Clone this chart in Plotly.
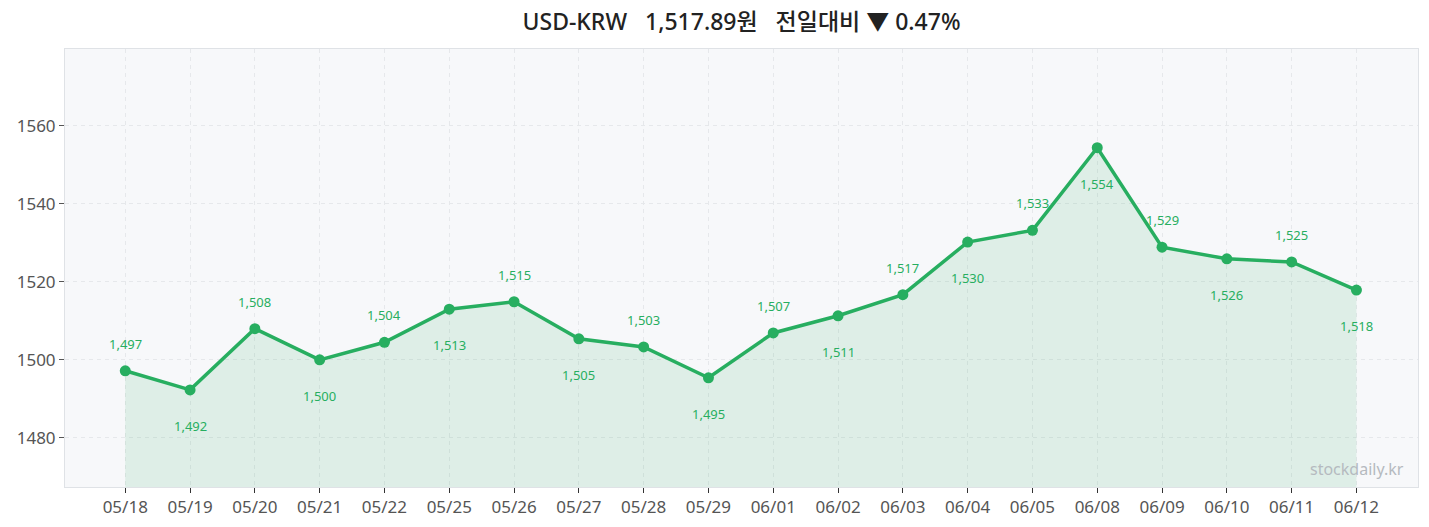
import plotly.graph_objects as go

dates = ["05/18", "05/19", "05/20", "05/21", "05/22", "05/25", "05/26", "05/27", "05/28", "05/29",
         "06/01", "06/02", "06/03", "06/04", "06/05", "06/08", "06/09", "06/10", "06/11", "06/12"]
rates = [1497.2, 1492.3, 1508.0, 1500.0, 1504.5, 1513.0, 1514.9, 1505.4, 1503.3, 1495.4,
         1506.9, 1511.3, 1516.7, 1530.2, 1533.2, 1554.4, 1528.9, 1525.9, 1525.1, 1517.89]
y_ticks = [1480, 1500, 1520, 1540, 1560]
title_text = "USD-KRW   1,517.89원   전일대비 ▼ 0.47%"
watermark = "stockdaily.kr"

GREEN = "#27ae60"
FONT = "Noto Sans, Noto Sans CJK KR"

fig = go.Figure()
fig.add_trace(go.Scatter(
    x=list(range(len(dates))), y=rates, mode="lines+markers",
    line=dict(color=GREEN, width=3.5),
    marker=dict(color=GREEN, size=11),
    fill="tozeroy", fillcolor="rgba(39,174,96,0.12)",
    hoverinfo="skip", showlegend=False,
))

annotations = []
for i, v in enumerate(rates):
    annotations.append(dict(
        x=i, y=v, xref="x", yref="y", text=f"{v:,.0f}", showarrow=False,
        yshift=27 if i % 2 == 0 else -36,
        font=dict(family=FONT, size=13, color=GREEN),
    ))
annotations.append(dict(
    x=1, y=0, xref="paper", yref="paper", xanchor="right", yanchor="bottom",
    xshift=-12, yshift=5, text=watermark, showarrow=False,
    font=dict(family=FONT, size=16, color="#b5babf"),
))

fig.update_layout(
    width=1429, height=527,
    margin=dict(l=65, r=11, t=49, b=40),
    paper_bgcolor="white", plot_bgcolor="#f7f8fa",
    title=dict(text=title_text, x=(65 + 1418) / 2 / 1429, xanchor="center", y=1 - 22 / 527, yanchor="middle",
               font=dict(family=FONT, size=23, color="#222222", weight=500)),
    font=dict(family=FONT, color="#555555"),
    annotations=annotations,
)
fig.update_xaxes(
    type="linear", range=[-0.93, 19.95], automargin=False,
    tickmode="array", tickvals=list(range(len(dates))), ticktext=dates,
    ticks="outside", ticklen=5, tickcolor="#333333",
    showgrid=True, gridcolor="#e6e8eb", griddash="4px,4px", gridwidth=1,
    showline=True, linecolor="#dfe2e6", linewidth=1, mirror=True,
    zeroline=False, tickfont=dict(family=FONT, size=17, color="#555555"),
)
fig.update_yaxes(
    range=[1467.4, 1579.7], tickvals=y_ticks, automargin=False,
    ticks="outside", ticklen=5, tickcolor="#555555",
    showgrid=True, gridcolor="#e6e8eb", griddash="4px,4px", gridwidth=1,
    showline=True, linecolor="#dfe2e6", linewidth=1, mirror=True,
    zeroline=False, tickfont=dict(family=FONT, size=17, color="#555555"),
)

fig.write_html("out.html")
